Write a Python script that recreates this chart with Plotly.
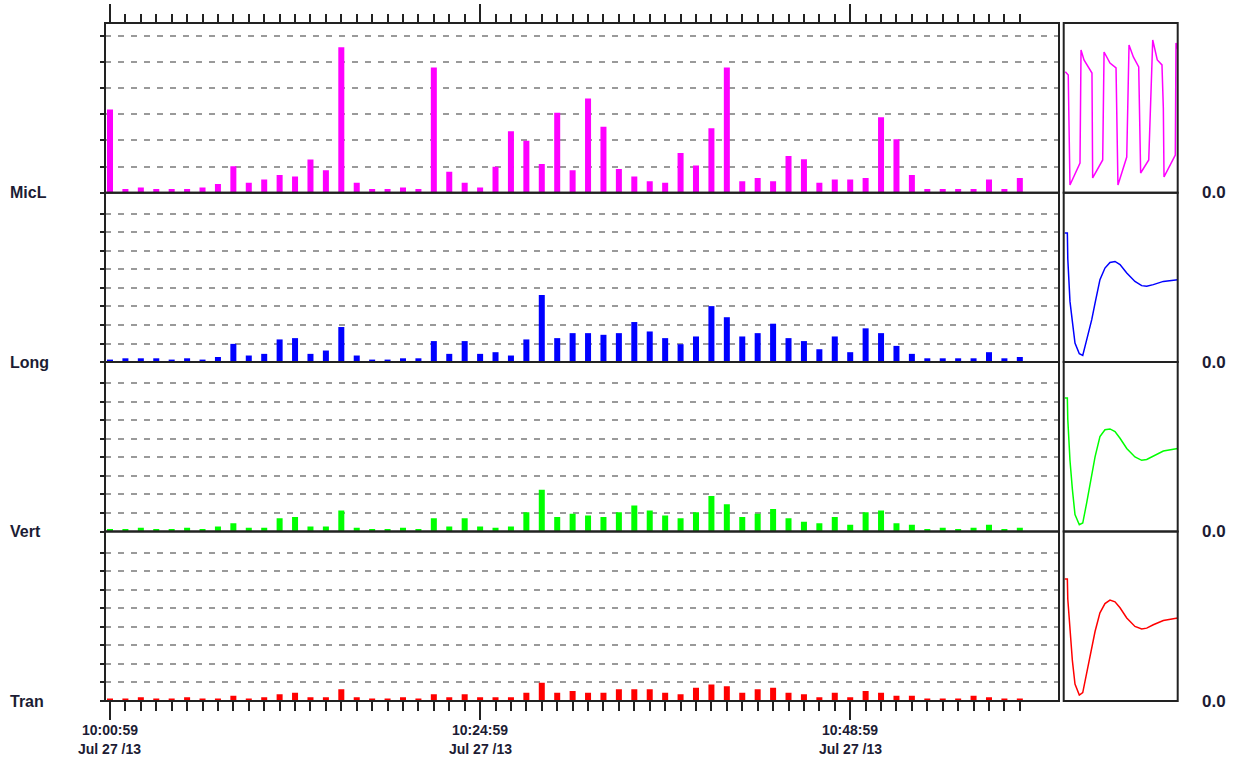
import pandas as pd
import plotly.graph_objects as go

W, H = 1233, 759

# one bar per minute, 10:00:59 .. 10:59:59
times = pd.date_range("2013-07-27 10:00:59", periods=60, freq="min")

micl = [3.19, 0.14, 0.2, 0.14, 0.14, 0.14, 0.2, 0.33, 1.01, 0.38,
        0.51, 0.68, 0.62, 1.27, 0.86, 5.57, 0.38, 0.14, 0.14, 0.2,
        0.14, 4.8, 0.8, 0.38, 0.2, 0.99, 2.35, 1.99, 1.1, 3.06,
        0.86, 3.61, 2.53, 0.91, 0.62, 0.44, 0.38, 1.52, 1.04, 2.47,
        4.8, 0.44, 0.56, 0.44, 1.41, 1.28, 0.38, 0.51, 0.51, 0.56,
        2.89, 2.05, 0.68, 0.14, 0.14, 0.14, 0.14, 0.51, 0.14, 0.56]
long_ = [0.13, 0.2, 0.2, 0.2, 0.13, 0.2, 0.13, 0.27, 0.98, 0.35,
         0.44, 1.22, 1.29, 0.44, 0.62, 1.89, 0.35, 0.13, 0.13, 0.2,
         0.2, 1.13, 0.44, 1.13, 0.44, 0.53, 0.35, 1.22, 3.62, 1.29,
         1.56, 1.56, 1.47, 1.56, 2.16, 1.65, 1.29, 0.96, 1.38, 3.02,
         2.42, 1.38, 1.56, 2.07, 1.29, 1.13, 0.69, 1.38, 0.53, 1.82,
         1.56, 0.87, 0.44, 0.2, 0.2, 0.2, 0.2, 0.53, 0.2, 0.27]
vert = [0.13, 0.13, 0.2, 0.13, 0.13, 0.2, 0.13, 0.27, 0.45, 0.2,
        0.2, 0.71, 0.78, 0.27, 0.27, 1.13, 0.2, 0.13, 0.13, 0.2,
        0.13, 0.71, 0.27, 0.71, 0.27, 0.2, 0.27, 1.04, 2.25, 0.78,
        0.96, 0.87, 0.78, 1.04, 1.4, 1.13, 0.87, 0.71, 1.04, 1.91,
        1.47, 0.78, 0.96, 1.22, 0.71, 0.53, 0.45, 0.78, 0.36, 1.04,
        1.13, 0.45, 0.36, 0.13, 0.2, 0.13, 0.2, 0.36, 0.13, 0.2]
tran = [0.13, 0.13, 0.2, 0.13, 0.13, 0.2, 0.13, 0.13, 0.28, 0.13,
        0.2, 0.37, 0.44, 0.2, 0.2, 0.63, 0.2, 0.13, 0.13, 0.2,
        0.13, 0.37, 0.2, 0.37, 0.2, 0.2, 0.2, 0.44, 0.98, 0.44,
        0.54, 0.44, 0.44, 0.63, 0.63, 0.63, 0.44, 0.37, 0.72, 0.89,
        0.8, 0.44, 0.63, 0.72, 0.44, 0.37, 0.2, 0.44, 0.2, 0.54,
        0.44, 0.28, 0.28, 0.13, 0.13, 0.13, 0.28, 0.2, 0.13, 0.13]

# small waveform panels on the right (x: 0-100 across panel, y: 0-1 of panel)
micl_wave_x = [1.4, 4.0, 4.6, 5.5, 14.3, 15.2, 17.8, 24.8, 25.4, 34.2,
               35.4, 40.6, 45.9, 46.5, 47.6, 55.3, 57.3, 61.1, 65.8, 67.5,
               74.6, 78.1, 82.1, 86.2, 87.4, 88.0, 97.9, 98.5, 100]
micl_wave_y = [0.713, 0.694, 0.429, 0.045, 0.175, 0.841, 0.782, 0.705, 0.087, 0.193,
               0.829, 0.764, 0.735, 0.369, 0.045, 0.21, 0.87, 0.8, 0.741, 0.116,
               0.193, 0.9, 0.782, 0.753, 0.499, 0.093, 0.222, 0.882, 0.847]
wave_x = [0.9, 3.2, 3.6, 5.5, 7.6, 9.9, 13.7, 16.7, 20.2, 24.6, 27.5, 31.8,
          36.2, 40.6, 45.0, 49.4, 55.3, 62.5, 68.4, 72.8, 78.6, 87.4, 100]
long_wave_y = [0.762, 0.762, 0.608, 0.358, 0.24, 0.112, 0.049, 0.039, 0.132, 0.25,
               0.348, 0.486, 0.555, 0.588, 0.594, 0.575, 0.526, 0.476, 0.451, 0.447,
               0.457, 0.476, 0.486]
vert_wave_y = [0.787, 0.787, 0.66, 0.42, 0.25, 0.1, 0.04, 0.05, 0.17, 0.33,
               0.44, 0.56, 0.6, 0.605, 0.59, 0.55, 0.49, 0.44, 0.42, 0.425,
               0.445, 0.475, 0.49]
tran_wave_y = [0.72, 0.72, 0.6, 0.4, 0.24, 0.1, 0.035, 0.05, 0.16, 0.31,
               0.41, 0.52, 0.575, 0.595, 0.585, 0.55, 0.49, 0.44, 0.425, 0.43,
               0.45, 0.475, 0.49]

channels = ["MicL", "Long", "Vert", "Tran"]
colors = ["#ff00ff", "#0000ff", "#00ff00", "#ff0000"]
bars = [micl, long_, vert, tran]
waves = [(micl_wave_x, micl_wave_y), (wave_x, long_wave_y),
         (wave_x, vert_wave_y), (wave_x, tran_wave_y)]
y_tops = [6.5, 9.15, 9.15, 9.15]
n_grid = [6, 8, 8, 8]

tick_times = ["2013-07-27 10:00:59", "2013-07-27 10:24:59", "2013-07-27 10:48:59"]
tick_clock = ["10:00:59", "10:24:59", "10:48:59"]
tick_day = ["Jul 27 /13", "Jul 27 /13", "Jul 27 /13"]

# panel edges in pixels
edges = [23, 192.7, 362, 531.5, 701]


def px(v):
    return v / W


def py(v):
    return 1 - v / H


minute = pd.Timedelta(minutes=1)
x_range = [times[0] - 0.324 * minute, times[0] + 61.54 * minute]
text_col = "#1c1c34"
line_col = "#222222"

fig = go.Figure()
layout = dict(
    width=W, height=H, autosize=False,
    margin=dict(l=0, r=0, t=0, b=0),
    paper_bgcolor="white", plot_bgcolor="white",
    showlegend=False, hovermode=False,
    font=dict(family="Liberation Sans", color=text_col),
)

layout["xaxis"] = dict(
    domain=[px(105), px(1059)], anchor="y4", type="date", range=x_range,
    tickmode="array", tickvals=tick_times, ticks="outside", ticklen=18,
    tickwidth=2, tickcolor=line_col, showticklabels=False,
    showgrid=False, zeroline=False, showline=False,
    minor=dict(tickmode="array", tickvals=list(times), ticks="outside",
               ticklen=9, tickwidth=2, tickcolor=line_col, showgrid=False),
)
layout["xaxis3"] = dict(
    overlaying="x", side="top", anchor="y", type="date", range=x_range,
    tickmode="array", tickvals=tick_times, ticks="outside", ticklen=18,
    tickwidth=2, tickcolor=line_col, showticklabels=False,
    showgrid=False, zeroline=False, showline=False,
    minor=dict(tickmode="array", tickvals=list(times), ticks="outside",
               ticklen=8, tickwidth=2, tickcolor=line_col, showgrid=False),
)
layout["xaxis2"] = dict(domain=[px(1063.7), px(1177.7)], anchor="y5",
                        range=[0, 100], visible=False)

shapes = []
annotations = []
for i, name in enumerate(channels):
    top, bot = edges[i], edges[i + 1]
    dom = [py(bot), py(top)]
    layout[f"yaxis{i + 1}" if i else "yaxis"] = dict(
        domain=dom, anchor="x", range=[0, y_tops[i]],
        tickmode="array", tickvals=list(range(n_grid[i] + 1)),
        ticks="outside", ticklen=4, tickwidth=1.5, tickcolor=line_col,
        showticklabels=False, showgrid=True, gridcolor="#9a9a9a",
        gridwidth=1.5, griddash="6px,7px", zeroline=False, showline=False,
    )
    layout[f"yaxis{i + 5}"] = dict(domain=dom, anchor="x2", range=[0, 1],
                                   visible=False)

    fig.add_trace(go.Bar(
        x=times, y=bars[i], width=0.39 * 60000,
        marker=dict(color=colors[i], line=dict(width=0)),
        xaxis="x", yaxis=f"y{i + 1}" if i else "y",
    ))
    fig.add_trace(go.Scatter(
        x=waves[i][0], y=waves[i][1], mode="lines",
        line=dict(color=colors[i], width=1.5),
        xaxis="x2", yaxis=f"y{i + 5}",
    ))

    yref = f"y{i + 1}" if i else "y"
    shapes.append(dict(type="rect", xref="x domain", yref=f"{yref} domain",
                       x0=0, x1=1, y0=0, y1=1, line=dict(color=line_col, width=2)))
    shapes.append(dict(type="rect", xref="x2 domain", yref=f"y{i + 5} domain",
                       x0=0, x1=1, y0=0, y1=1, line=dict(color=line_col, width=2)))

    annotations.append(dict(text=f"<b>{name}</b>", x=px(8), y=py(bot),
                            xref="paper", yref="paper", xanchor="left",
                            yanchor="middle", showarrow=False,
                            font=dict(size=16, color=text_col)))
    annotations.append(dict(text="<b>0.0</b>", x=px(1214), y=py(bot),
                            xref="paper", yref="paper", xanchor="center",
                            yanchor="middle", showarrow=False,
                            font=dict(size=17, color=text_col)))

for t, c, d in zip(tick_times, tick_clock, tick_day):
    annotations.append(dict(text=f"<b>{c}</b>", x=t, y=py(730), xref="x",
                            yref="paper", yanchor="middle", showarrow=False,
                            font=dict(size=14, color=text_col)))
    annotations.append(dict(text=f"<b>{d}</b>", x=t, y=py(749), xref="x",
                            yref="paper", yanchor="middle", showarrow=False,
                            font=dict(size=14, color=text_col)))

# keeps the top tick axis alive
fig.add_trace(go.Scatter(x=[times[0]], y=[0], mode="markers",
                         marker=dict(opacity=0), xaxis="x3", yaxis="y",
                         hoverinfo="skip"))

layout["shapes"] = shapes
layout["annotations"] = annotations
fig.update_layout(**layout)

fig.write_html("out.html", config={"displayModeBar": False},
               post_script="document.body.style.margin='0px';")
